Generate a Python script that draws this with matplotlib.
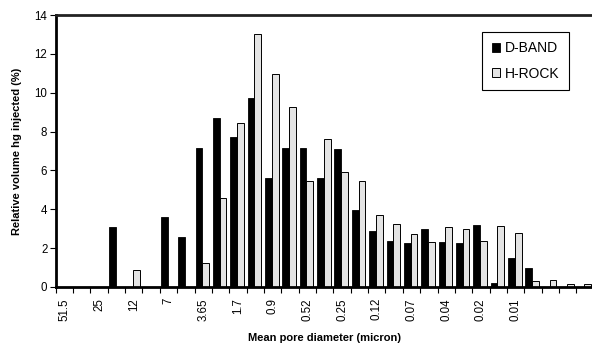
import numpy as np
import matplotlib; matplotlib.use("Agg")
import matplotlib.pyplot as plt
from matplotlib.ticker import FixedLocator

plt.rcParams["font.family"] = ["Liberation Sans", "DejaVu Sans"]

# pore diameter classes (micron), labelled every second class
labels = ["51.5", "", "25", "", "12", "", "7", "", "3.65", "", "1.7", "", "0.9", "",
          "0.52", "", "0.25", "", "0.12", "", "0.07", "", "0.04", "", "0.02", "",
          "0.01", "", "", "", ""]
dband = [0, 0, 0, 3.1, 0, 0, 3.6, 2.55, 7.15, 8.7, 7.7, 9.75, 5.6, 7.15, 7.15, 5.6,
         7.1, 3.95, 2.9, 2.35, 2.25, 3.0, 2.3, 2.25, 3.2, 0.2, 1.5, 0.95, 0, 0, 0]
hrock = [0, 0, 0, 0, 0.85, 0, 0, 0, 1.25, 4.6, 8.45, 13.05, 10.95, 9.25, 5.45, 7.6,
         5.9, 5.45, 3.7, 3.25, 2.75, 2.3, 3.1, 3.0, 2.35, 3.15, 2.8, 0.3, 0.35, 0.15, 0.15]

x = np.arange(len(labels))
fig = plt.figure(figsize=(5.92, 3.44), dpi=100)
ax = fig.add_axes([0.094, 0.166, 0.909, 0.790])

w = 0.39
ax.bar(x - 0.245, dband, w, color="black", edgecolor="black", lw=0.6, label="D-BAND")
ax.bar(x + 0.145, hrock, w, color="#e4e4e4", edgecolor="black", lw=0.7, label="H-ROCK")

ax.set_xlim(-0.5, len(labels) - 0.5)
ax.set_ylim(0, 14)
ax.set_yticks(range(0, 15, 2))
ax.set_xticks(x)
ax.set_xticklabels(labels, rotation=90, fontsize=8.3)
ax.tick_params(axis="x", which="major", length=0, pad=8)
ax.xaxis.set_minor_locator(FixedLocator(np.arange(-0.5, len(labels), 1)))
ax.tick_params(axis="x", which="minor", length=4, width=0.8, direction="out")
ax.tick_params(axis="y", length=4, width=0.8, direction="out", labelsize=8.3, pad=2)

for s in ["left", "bottom", "top"]:
    ax.spines[s].set_linewidth(2)
ax.spines["top"].set_color("#222222")
ax.spines["right"].set_visible(False)

ax.set_xlabel("Mean pore diameter (micron)", fontsize=8, fontweight="bold", labelpad=9)
ax.set_ylabel("Relative volume hg injected (%)", fontsize=8, fontweight="bold", labelpad=9)

leg = ax.legend(loc="upper right", bbox_to_anchor=(0.954, 0.939), borderaxespad=0,
                fontsize=10, fancybox=False, framealpha=1, edgecolor="black",
                handlelength=0.55, handleheight=0.55, handletextpad=0.35,
                labelspacing=0.8, borderpad=0.7)
leg.get_frame().set_linewidth(0.8)

fig.savefig("out.png", dpi=100)
